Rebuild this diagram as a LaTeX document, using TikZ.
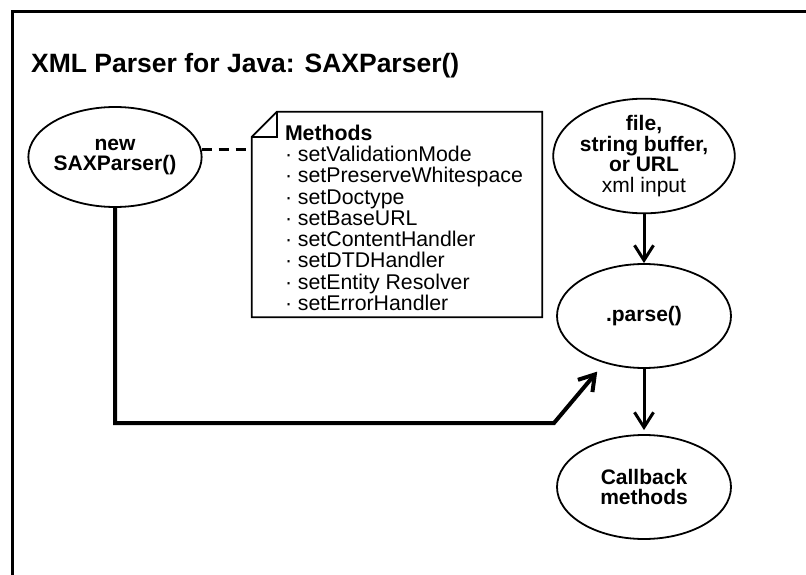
\documentclass[tikz,border=0pt]{standalone}
\usepackage{fontspec}
\setmainfont{Liberation Sans}
\usetikzlibrary{arrows.meta,shapes.geometric}
\begin{document}
\begin{tikzpicture}[x=1pt,y=-1pt,
  proc/.style={draw,ellipse,line width=1.8pt,minimum width=174pt,minimum height=104pt,inner sep=0pt,align=center,font=\bfseries\fontsize{21}{20.5}\selectfont},
  flow/.style={line width=3pt,-{Straight Barb[length=15pt,width=19pt]}}]
\useasboundingbox (0,0) rectangle (806,575);
\draw[line width=3pt] (12,575) |- (806,12);
\node[anchor=base west,inner sep=0pt,font=\bfseries\fontsize{26.5}{26.5}\selectfont] (title) at (31,73) {XML Parser for Java: SAXParser()};
% the four steps
\node[proc,minimum width=168pt,minimum height=100pt] (new) at (115,157) {new\\SAXParser()};
\node[proc] (input) at (644,156) {file,\\string buffer,\\or URL\\{\mdseries xml input}};
\node[proc] (parse) at (644,316) {.parse()};
\node[proc] (callback) at (644,487) {Callback\\methods};
% note with the methods
\node[minimum width=290pt,minimum height=205pt,inner sep=0pt] (methods) at (397,214.5) {};
\draw[line width=1.8pt] ([yshift=-25pt]methods.north west) -- ([xshift=25pt]methods.north west) -- (methods.north east) -- (methods.south east) -- (methods.south west) -- cycle;
\draw[line width=1.8pt] ([yshift=-25pt]methods.north west) -| ([xshift=25pt]methods.north west);
\node[anchor=north west,align=left,inner sep=0pt,font=\fontsize{21.3}{21.25}\selectfont] (list) at ([xshift=33pt,yshift=-13pt]methods.north west) {\textbf{Methods}\\· setValidationMode\\· setPreserveWhitespace\\· setDoctype\\· setBaseURL\\· setContentHandler\\· setDTDHandler\\· setEntity Resolver\\· setErrorHandler};
\draw[line width=2.5pt,dash pattern=on 10pt off 7pt] (new.5) -- (new.5 -| methods.west);
% connectors
\draw[flow] (input) -- (parse);
\draw[flow,shorten >=4pt] (parse) -- (callback);
\coordinate (bend) at (554,423);
\draw[flow,line width=4pt,shorten >=11pt] (new) |- (bend) -- (parse);
\end{tikzpicture}
\end{document}
